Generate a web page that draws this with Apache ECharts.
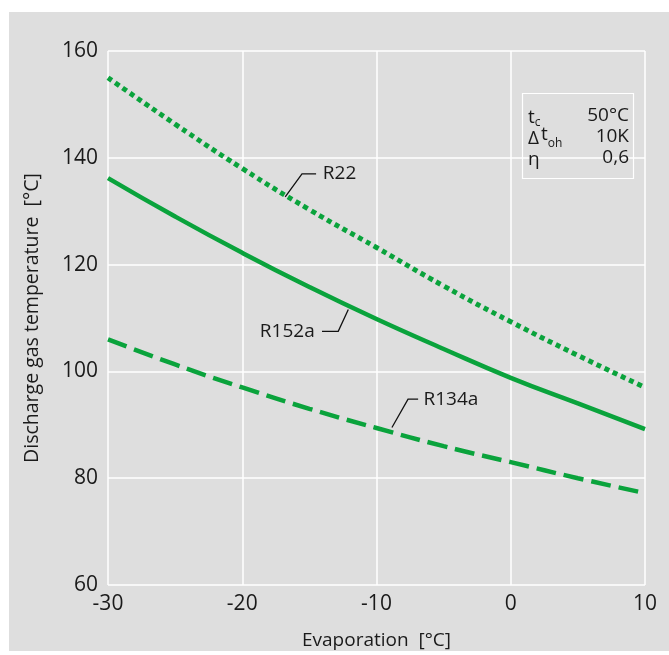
<!DOCTYPE html>
<html>
<head>
<meta charset="utf-8">
<script src="https://cdn.jsdelivr.net/npm/echarts@6/dist/echarts.min.js"></script>
<style>
html,body{margin:0;padding:0;background:#fff;}
#bg{position:absolute;left:9px;top:12px;width:660px;height:639px;background:#dedede;}
#c{position:absolute;left:0;top:0;width:669px;height:655px;}
</style>
</head>
<body>
<div id="bg"></div>
<div id="c"></div>
<script>
const evap = [-30, -25, -20, -15, -10, -5, 0, 5, 10];
const r22 = [155, 146.3, 138, 130.3, 123.2, 116, 109.3, 103, 97];
const r152a = [136.2, 129, 122.2, 115.8, 109.8, 104.2, 98.8, 94, 89.2];
const r134a = [106, 101.3, 97, 93, 89.4, 86, 83, 80, 77.2];
const xTicks = [-30, -20, -10, 0, 10];
const yTicks = [60, 80, 100, 120, 140, 160];

const FONT = 'Open Sans';
const TXT = '#1a1a1a';
const GREEN = '#0aa33c';
const chart = echarts.init(document.getElementById('c'), null, {renderer: 'canvas'});

function pairs(ys){ return evap.map((x,i)=>[x, ys[i]]); }

chart.setOption({
  backgroundColor: 'transparent',
  animation: false,
  grid: {left: 108, right: 24, top: 51, bottom: 69, containLabel: false},
  xAxis: {
    type: 'value', min: -30, max: 10, interval: 10,
    name: 'Evaporation  [°C]', nameLocation: 'middle', nameGap: 46,
    nameTextStyle: {fontFamily: FONT, fontSize: 19, color: TXT},
    axisLine: {show: false}, axisTick: {show: false},
    axisLabel: {fontFamily: FONT, fontSize: 21, color: TXT, margin: 9,
      formatter: v => xTicks.includes(v) ? String(v) : ''},
    splitLine: {show: true, lineStyle: {color: '#ffffff', width: 1.5}}
  },
  yAxis: {
    type: 'value', min: 60, max: 160, interval: 20,
    name: 'Discharge gas temperature  [°C]', nameLocation: 'middle', nameGap: 66,
    nameTextStyle: {fontFamily: FONT, fontSize: 19.5, color: TXT},
    axisLine: {show: false}, axisTick: {show: false},
    axisLabel: {fontFamily: FONT, fontSize: 21, color: TXT, margin: 10,
      formatter: v => yTicks.includes(v) ? String(v) : ''},
    splitLine: {show: true, lineStyle: {color: '#ffffff', width: 1.5}}
  },
  series: [
    {name: 'R22', type: 'line', data: pairs(r22), smooth: true, symbol: 'none',
     lineStyle: {color: GREEN, width: 5, type: [5, 4]}},
    {name: 'R152a', type: 'line', data: pairs(r152a), smooth: true, symbol: 'none',
     lineStyle: {color: GREEN, width: 4.5}},
    {name: 'R134a', type: 'line', data: pairs(r134a), smooth: true, symbol: 'none',
     lineStyle: {color: GREEN, width: 4.5, type: [20, 8]}}
  ]
});

// annotation leaders, in data coordinates
const notes = [
  {text: 'R22', pts: [[-16.8, 132.7], [-15.55, 137], [-14.5, 137]], label: [-14.0, 137], align: 'left'},
  {text: 'R152a', pts: [[-12.1, 111.6], [-12.85, 107.5], [-14.06, 107.5]], label: [-14.6, 107.5], align: 'right'},
  {text: 'R134a', pts: [[-8.85, 89.5], [-7.65, 94.8], [-6.9, 94.8]], label: [-6.5, 94.8], align: 'left'}
];
const px = p => chart.convertToPixel({gridIndex: 0}, p);
const graphics = [];
notes.forEach(n => {
  graphics.push({type: 'polyline', shape: {points: n.pts.map(px)}, style: {stroke: '#111', lineWidth: 1.3, fill: null}, z: 10});
  const lp = px(n.label);
  graphics.push({type: 'text', x: lp[0], y: lp[1], style: {text: n.text, fontFamily: FONT, fontSize: 19, fill: TXT, textAlign: n.align, textVerticalAlign: 'middle'}, z: 10});
});
// conditions box
graphics.push({type: 'rect', shape: {x: 522.5, y: 93.5, width: 111, height: 85}, style: {fill: 'none', stroke: '#ffffff', lineWidth: 1.2}, z: 5});
const rowsL = [
  {y: 118, t: '{m|t}{s|c}'},
  {y: 139, t: '{m|Δ}{sup|t}{s|oh}'},
  {y: 160, t: '{m|η}'}
];
const rowsR = [{y: 116, t: '50°C'}, {y: 137, t: '10K'}, {y: 158, t: '0,6'}];
rowsL.forEach(r => graphics.push({type: 'text', x: 528, y: r.y, z: 10, style: {
  text: r.t, textVerticalAlign: 'middle', fill: TXT,
  rich: {
    m: {fontFamily: FONT, fontSize: 19, fill: TXT},
    sup: {fontFamily: FONT, fontSize: 19, fill: TXT, padding: [0,0,8,2]},
    s: {fontFamily: FONT, fontSize: 12, fill: TXT, padding: [9,0,0,0]}
  }}}));
rowsR.forEach(r => graphics.push({type: 'text', x: 629, y: r.y, z: 10, style: {
  text: r.t, fontFamily: FONT, fontSize: 19, fill: TXT, textAlign: 'right', textVerticalAlign: 'middle'}}));
chart.setOption({graphic: graphics});
</script>
</body>
</html>
